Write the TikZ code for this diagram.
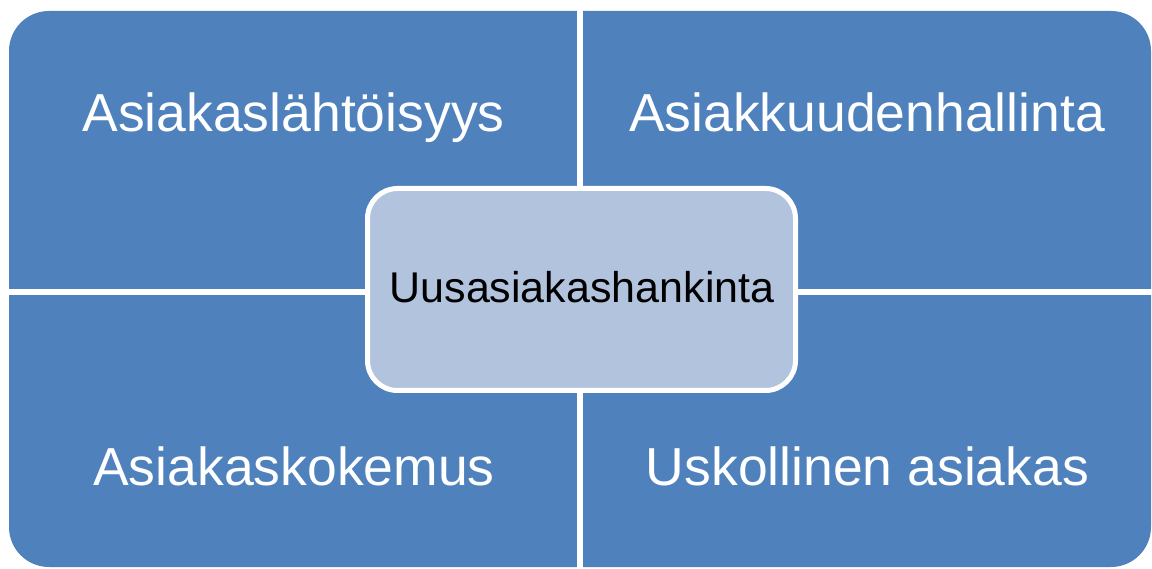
\documentclass[tikz,border=0pt]{standalone}
\usepackage{fontspec}
\setmainfont{Liberation Sans}
\definecolor{quadblue}{RGB}{79,129,189}
\definecolor{centerblue}{RGB}{178,195,222}
\begin{document}
\begin{tikzpicture}[x=1pt,y=1pt,
  quadtext/.style={text=white,font=\fontsize{53.5}{58}\selectfont,anchor=base,inner sep=0pt},
  centertext/.style={text=black,font=\fontsize{43}{48}\selectfont,anchor=base,inner sep=0pt},
  gapline/.style={white,line width=6pt}]
\useasboundingbox (0,0) rectangle (1152,568);
% quadrants
\fill[quadblue,rounded corners=40pt] (9,1) rectangle (1151,557);
\draw[gapline] (580,0) -- (580,560);
\draw[gapline] (5,276) -- (1155,276);
% center box
\draw[white,line width=5pt,fill=centerblue,rounded corners=30pt] (367.5,177.5) rectangle (795.5,379.5);
% texts
\node[quadtext] (tl) at (293.5,436) {Asiakaslähtöisyys};
\node[quadtext] (tr) at (867,436) {Asiakkuudenhallinta};
\node[quadtext] (bl) at (294,82) {Asiakaskokemus};
\node[quadtext] (br) at (867.5,82) {Uskollinen asiakas};
\node[centertext] (c) at (582,265) {Uusasiakashankinta};
\end{tikzpicture}
\end{document}
